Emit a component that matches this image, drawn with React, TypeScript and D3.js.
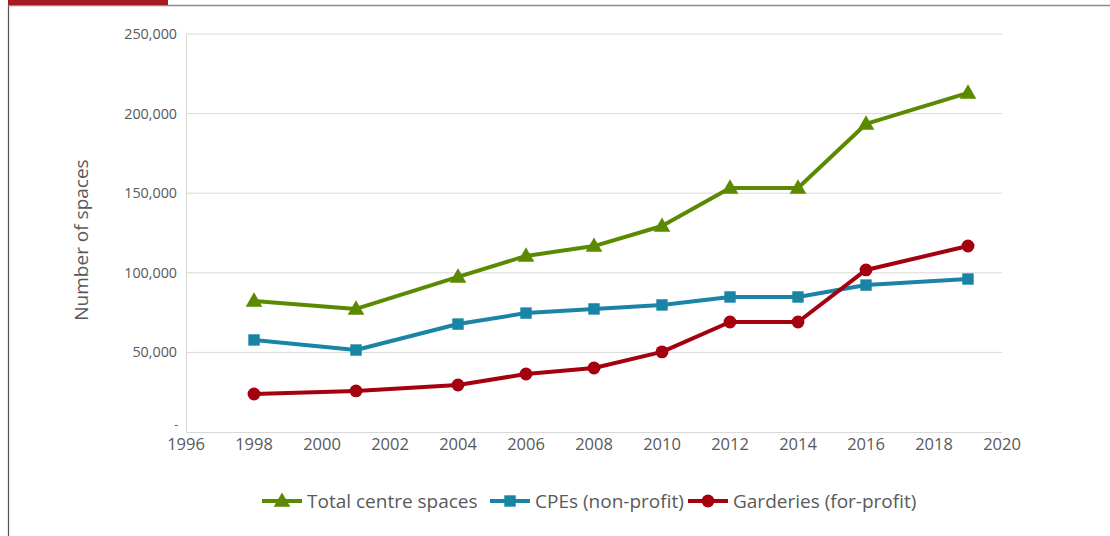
import React from 'react';
import * as d3 from 'd3';

const years = [1998, 2001, 2004, 2006, 2008, 2010, 2012, 2014, 2016, 2019];
const totalSpaces = [82300, 77300, 97400, 110600, 116800, 129400, 153300, 153300, 193500, 213000];
const cpeSpaces = [57800, 51500, 67800, 74700, 77300, 79800, 84800, 84800, 92300, 96100];
const garderieSpaces = [23900, 25800, 29500, 36400, 40200, 50300, 69100, 69100, 101800, 116800];
const xTicks = [1996, 1998, 2000, 2002, 2004, 2006, 2008, 2010, 2012, 2014, 2016, 2018, 2020];
const yTicks = [0, 50000, 100000, 150000, 200000, 250000];

const seriesNames = ['Total centre spaces', 'CPEs (non-profit)', 'Garderies (for-profit)'];
const seriesColors = ['#5b8a00', '#1a84a5', '#a50010'];
const seriesShapes = [d3.symbolTriangle, d3.symbolSquare, d3.symbolCircle];

const W = 1110;
const H = 536;
const font = "'Open Sans', sans-serif";

const App: React.FC = () => {
    const x = d3.scaleLinear().domain([1996, 2020]).range([186, 1002]);
    const y = d3.scaleLinear().domain([0, 250000]).range([432, 34]);
    const allSeries = [totalSpaces, cpeSpaces, garderieSpaces];

    const line = d3.line<[number, number]>()
        .x(d => x(d[0]))
        .y(d => y(d[1]));

    const fmt = d3.format(',');
    const symbolSizes = [120, 130, 130];

    const legendX = [262, 490, 688];

    return (
        <svg width={W} height={H} style={{ position: 'absolute', left: 0, top: 0 }}>
            <rect x={0} y={0} width={W} height={H} fill="#fff" />
            {/* frame */}
            <line x1={8.5} x2={8.5} y1={4} y2={H} stroke="#555" strokeWidth={1.2} />
            <line x1={8} x2={W} y1={5.5} y2={5.5} stroke="#8c8c8c" strokeWidth={1.5} />
            <rect x={8} y={0} width={160} height={5} fill="#a51c24" />

            {/* gridlines */}
            {yTicks.slice(1).map(t => (
                <line key={t} x1={186} x2={1002} y1={y(t)} y2={y(t)} stroke="#d9d9d9" strokeWidth={1} />
            ))}
            <line x1={186.5} x2={186.5} y1={34} y2={432} stroke="#d9d9d9" strokeWidth={1} />
            <line x1={186} x2={1002} y1={432.5} y2={432.5} stroke="#d9d9d9" strokeWidth={1} />

            {/* y tick labels */}
            {yTicks.map(t => (
                <text key={t} x={t === 0 ? 178 : 177} y={t === 0 ? y(t) - 3 : y(t) + 5} textAnchor="end"
                    fontFamily={font} fontSize={t === 0 ? 12 : 14.3} fill="#595959">
                    {t === 0 ? '-' : fmt(t)}
                </text>
            ))}

            {/* x tick labels */}
            {xTicks.map(t => (
                <text key={t} x={x(t)} y={450} textAnchor="middle"
                    fontFamily={font} fontSize={16.5} fill="#595959">
                    {t}
                </text>
            ))}

            {/* y axis title */}
            <text transform="translate(88,240) rotate(-90)" textAnchor="middle"
                fontFamily={font} fontSize={19} fill="#595959">
                Number of spaces
            </text>

            {/* series */}
            {allSeries.map((vals, i) => {
                const pts: [number, number][] = years.map((yr, j) => [yr, vals[j]]);
                const sym = d3.symbol().type(seriesShapes[i]).size(symbolSizes[i])();
                return (
                    <g key={i}>
                        <path d={line(pts) || ''} fill="none" stroke={seriesColors[i]} strokeWidth={4} strokeLinejoin="round" />
                        {pts.map((p, j) => (
                            <path key={j} d={sym || ''} transform={`translate(${x(p[0])},${y(p[1]) + (i === 0 ? 1 : 0)})`} fill={seriesColors[i]} />
                        ))}
                    </g>
                );
            })}

            {/* legend */}
            {seriesNames.map((name, i) => {
                const sym = d3.symbol().type(seriesShapes[i]).size(symbolSizes[i])();
                const lx = legendX[i];
                return (
                    <g key={name}>
                        <line x1={lx} x2={lx + 40} y1={501} y2={501} stroke={seriesColors[i]} strokeWidth={4} />
                        <path d={sym || ''} transform={`translate(${lx + 20},${i === 0 ? 502 : 501})`} fill={seriesColors[i]} />
                        <text x={lx + 45} y={507.5} fontFamily={font} fontSize={19} fill="#595959">{name}</text>
                    </g>
                );
            })}
        </svg>
    );
};

export default App;
